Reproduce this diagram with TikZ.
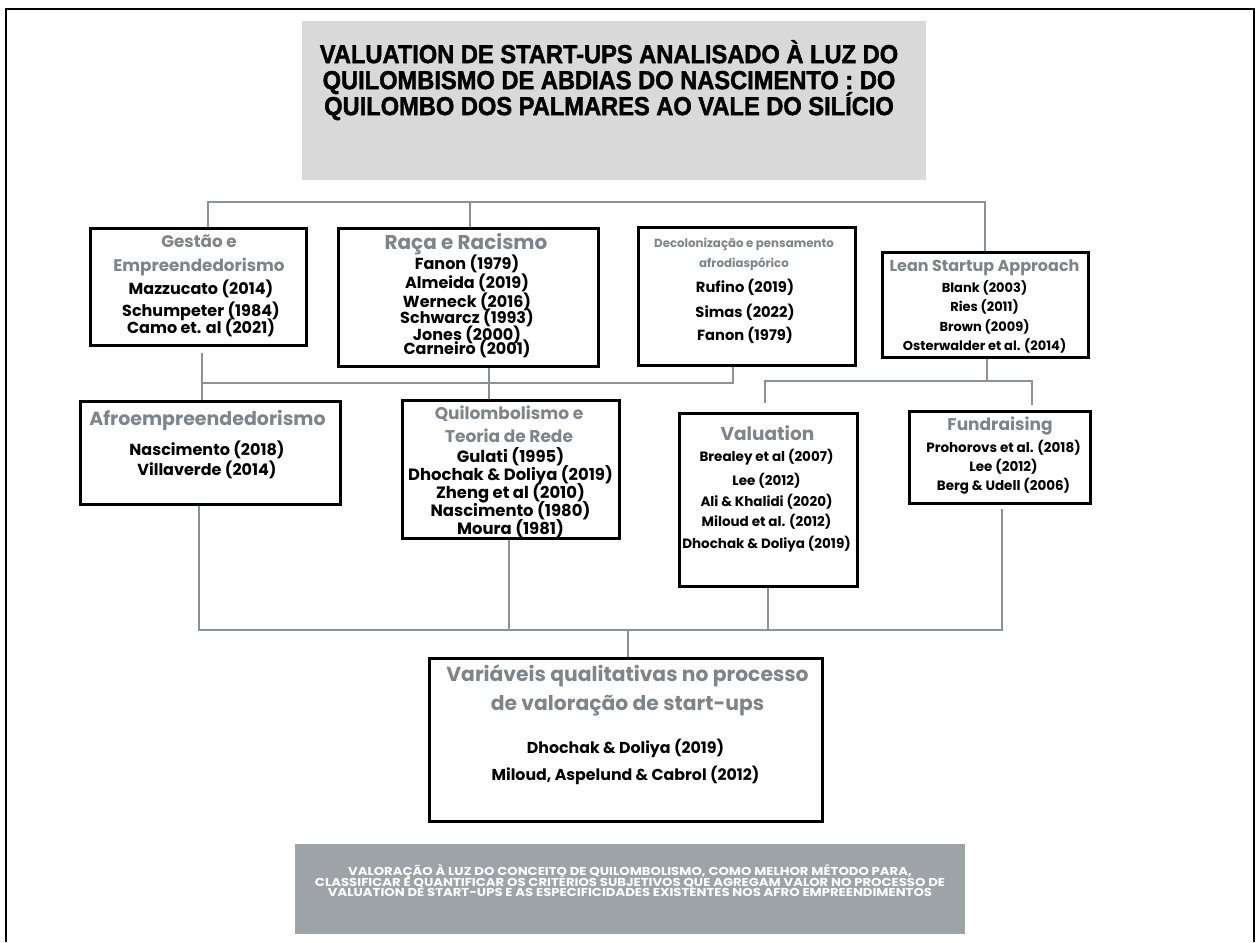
\documentclass[tikz,border=0pt]{standalone}
\usepackage{fontspec}
\setmainfont{Poppins}
\newfontfamily\titlefont{Liberation Sans}[UprightFont=* Bold, BoldFont=* Bold, FakeStretch=0.91, FakeBold=1.6]
\newfontfamily\bannerfont{Poppins}[FakeStretch=1.15]
\usetikzlibrary{calc}
\definecolor{hdrgray}{HTML}{7E858A}
\definecolor{wiregray}{HTML}{8C9196}
\definecolor{titlebg}{HTML}{D9D9D9}
\definecolor{bannerbg}{HTML}{9EA3A8}
\pgfdeclarelayer{wires}
\pgfsetlayers{wires,main}

% one text line per entry: name prefix, x, font size, colour, list of text/y
\newcommand\stacklines[5]{%
  \foreach \txt/\yy [count=\k] in {#5}
    \node[ln=#3, text=#4] (#1-\k) at (#2,\yy) {\txt};}

\begin{document}
\begin{tikzpicture}[x=1pt,y=-1pt,
  box/.style={draw=black, line width=3pt, fill=white, inner sep=0pt},
  wire/.style={draw=wiregray, line width=2pt},
  ln/.style={inner sep=0pt, anchor=base, yshift={-0.35*#1},
             font=\bfseries\fontsize{#1}{#1}\selectfont}]
\useasboundingbox (0,0) rectangle (1257,942);

% outer frame
\draw[line width=2.5pt] (6,942) -- (6,9) -- (1254,9) -- (1254,942);

% title panel
\node[fill=titlebg, minimum width=624pt, minimum height=159pt, inner sep=0pt] (title) at (614,100.5) {};
\foreach \txt/\yy [count=\k] in {VALUATION DE START-UPS ANALISADO À LUZ DO/54,
    QUILOMBISMO DE ABDIAS DO NASCIMENTO : DO/80,
    QUILOMBO DOS PALMARES AO VALE DO SILÍCIO/106}
  \node[inner sep=0pt, anchor=base, yshift={-0.35*26},
        font=\titlefont\fontsize{26}{26}\selectfont] (title-\k) at (609,\yy) {\txt};

% boxes
\node[box, minimum width=216pt, minimum height=117pt] (gestao) at (198.5,287) {};
\node[box, minimum width=260pt, minimum height=138pt] (raca) at (468.5,297.5) {};
\node[box, minimum width=217pt, minimum height=138pt] (deco) at (747,296.5) {};
\node[box, minimum width=206pt, minimum height=105pt] (lean) at (985.5,305) {};
\node[box, minimum width=260pt, minimum height=103pt] (afro) at (210.5,453) {};
\node[box, minimum width=217pt, minimum height=138pt] (quil) at (511,469.5) {};
\node[box, minimum width=178pt, minimum height=173pt] (val) at (768.5,500) {};
\node[box, minimum width=181pt, minimum height=92pt] (fund) at (1000,457.5) {};
\node[box, minimum width=393pt, minimum height=163pt] (vars) at (626,740) {};

% box texts
\stacklines{gestao-h}{199}{16.8}{hdrgray}{Gestão e/242, Empreendedorismo/266}
\stacklines{gestao-r}{201}{16}{black}{Mazzucato (2014)/289, Schumpeter (1984)/311, Camo et. al (2021)/328}

\stacklines{raca-h}{466}{20}{hdrgray}{Raça e Racismo/242}
\stacklines{raca-r}{467}{16}{black}{Fanon (1979)/264, Almeida (2019)/283, Werneck (2016)/302,
  Schwarcz (1993)/318, Jones (2000)/335, Carneiro (2001)/349}

\stacklines{deco-h}{744}{11.8}{hdrgray}{Decolonização e pensamento/243, afrodiaspórico/263}
\stacklines{deco-r}{745}{14.7}{black}{Rufino (2019)/287, Simas (2022)/312, Fanon (1979)/335}

\stacklines{lean-h}{984.5}{16}{hdrgray}{Lean Startup Approach/266}
\stacklines{lean-r}{984.5}{13}{black}{Blank (2003)/288, Ries (2011)/307, Brown (2009)/327,
  Osterwalder et al. (2014)/346}

\stacklines{afro-h}{207.5}{19}{hdrgray}{Afroempreendedorismo/419}
\stacklines{afro-r}{207}{16}{black}{Nascimento (2018)/450, Villaverde (2014)/470}

\stacklines{quil-h}{509}{17}{hdrgray}{Quilombolismo e/414, Teoria de Rede/437}
\stacklines{quil-r}{510.5}{16.4}{black}{Gulati (1995)/457, Dhochak \& Doliya (2019)/475,
  Zheng et al (2010)/493, Nascimento (1980)/511, Moura (1981)/529}

\stacklines{val-h}{767.5}{18.5}{hdrgray}{Valuation/434}
\stacklines{val-r}{766.5}{13.5}{black}{Brealey et al (2007)/457, Lee (2012)/481,
  Ali \& Khalidi (2020)/502, Miloud et al. (2012)/522, Dhochak \& Doliya (2019)/544}

\stacklines{fund-h}{1000}{17}{hdrgray}{Fundraising/425}
\stacklines{fund-r}{1003.5}{13.5}{black}{Prohorovs et al. (2018)/448, Lee (2012)/467,
  Berg \& Udell (2006)/486}

\stacklines{vars-h}{627.5}{20.3}{hdrgray}{Variáveis qualitativas no processo/674,
  de valoração de start-ups/703}
\stacklines{vars-r}{625.5}{15.8}{black}{Dhochak \& Doliya (2019)/748,
  {Miloud, Aspelund \& Cabrol (2012)}/775}

% conclusion banner
\node[fill=bannerbg, minimum width=670pt, minimum height=90pt, inner sep=0pt] (banner) at (630,889) {};
\foreach \txt/\yy [count=\k] in {{VALORAÇÃO À LUZ DO CONCEITO DE QUILOMBOLISMO, COMO MELHOR MÉTODO PARA,}/871.5,
    CLASSIFICAR E QUANTIFICAR OS CRITÉRIOS SUBJETIVOS QUE AGREGAM VALOR NO PROCESSO DE/882,
    VALUATION DE START-UPS E AS ESPECIFICIDADES EXISTENTES NOS AFRO EMPREENDIMENTOS/892.5}
  \node[inner sep=0pt, anchor=base, yshift={-0.35*11.5}, text=white,
        font=\bannerfont\bfseries\fontsize{11.5}{11.5}\selectfont] (banner-\k) at (630,\yy) {\txt};

% connectors
\coordinate (tbL) at (208,202);
\coordinate (tbM) at (470,202);
\coordinate (tbR) at (985,202);
\coordinate (mbL) at (202,383);
\coordinate (mbM) at (489,383);
\coordinate (mbR) at (733,383);
\coordinate (lbL) at (765,381);
\coordinate (lbM) at (987,381);
\coordinate (lbR) at (1032,381);
\coordinate (bbL) at (199,630);
\coordinate (bbQ) at (509,630);
\coordinate (bbB) at (628,630);
\coordinate (bbV) at (768,630);
\coordinate (bbR) at (1002,630);
\begin{pgfonlayer}{wires}
\draw[wire] (gestao.north -| tbL) -- (tbL) -- (tbR) -- (lean.north -| tbR);
\draw[wire] (tbM) -- (raca.north -| tbM);
\draw[wire, shorten <=6pt] (gestao.south -| mbL) -- (afro.north -| mbL);
\draw[wire] (mbL) -- (mbR) -- (deco.south -| mbR);
\draw[wire] (raca.south -| mbM) -- (quil.north -| mbM);
\draw[wire] (lean.south -| lbM) -- (lbM);
\draw[wire, shorten >=9pt] (lbR) -- (lbL) -- (val.north -| lbL);
\draw[wire, shorten >=5pt] (lbL) -- (lbR) -- (fund.north -| lbR);
\draw[wire, shorten >=4pt] (afro.south -| bbL) -- (bbL) -- (bbR) -- (fund.south -| bbR);
\draw[wire] (quil.south -| bbQ) -- (bbQ);
\draw[wire] (val.south -| bbV) -- (bbV);
\draw[wire] (bbB) -- (vars.north -| bbB);
\end{pgfonlayer}
\end{tikzpicture}
\end{document}
